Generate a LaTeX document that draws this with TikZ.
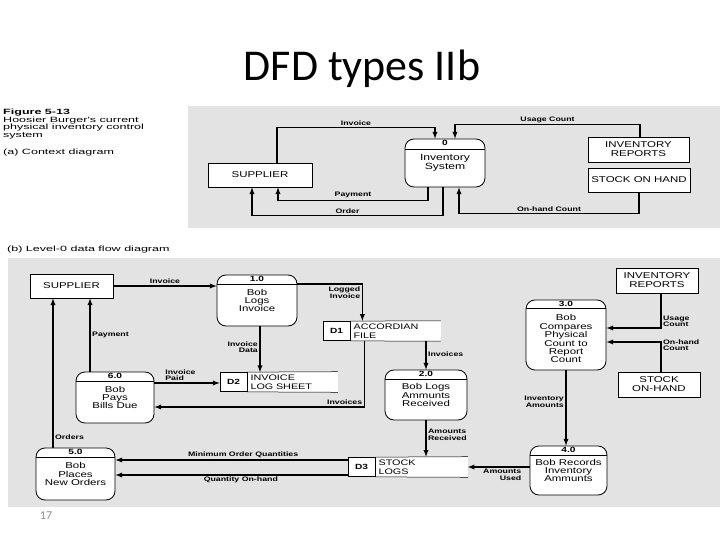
\documentclass[tikz,border=0pt]{standalone}
\usepackage{fontspec}
\setmainfont{Carlito}
\newfontfamily\dfdfont[FakeStretch=1.35]{Liberation Sans}
\newfontfamily\capfont[FakeStretch=1.65]{Liberation Sans}
\usetikzlibrary{positioning}
\begin{document}
\begin{tikzpicture}
	[x=1pt,y=-1pt,>=latex,
	entity/.style={draw,line width=0.7pt,fill=white,align=center,inner sep=1pt,font=\dfdfont\fontsize{8.5}{9}\selectfont},
	proc/.style={draw,line width=0.8pt,fill=white,rounded corners=9pt,align=center,inner sep=1pt,
		font=\dfdfont\fontsize{8.5}{8.4}\selectfont,
		path picture={\draw[line width=0.6pt] ([yshift=-#1]path picture bounding box.north west) -- ([yshift=-#1]path picture bounding box.north east);}},
	proc/.default=9pt,
	pid/.style={anchor=north,inner sep=1pt,font=\dfdfont\bfseries\fontsize{7.5}{8}\selectfont},
	storeid/.style={draw,line width=0.7pt,fill=white,minimum width=27pt,minimum height=19pt,inner sep=0pt,font=\dfdfont\bfseries\fontsize{7.5}{8}\selectfont},
	storename/.style={fill=white,align=left,minimum height=19pt,inner sep=3pt,font=\dfdfont\fontsize{8}{8.5}\selectfont},
	flow/.style={line width=1.3pt,->},
	lbl/.style={inner sep=1.5pt,font=\dfdfont\bfseries\fontsize{6.5}{6.5}\selectfont,align=left},
	scan/.style={fill=black!11,draw=none}]
    \useasboundingbox (0,0) rectangle (720,540);
    \fill[scan] (188,106) rectangle (720,228);
    \fill[scan] (8,258) rectangle (720,507);

    \node[font=\fontsize{44}{50}\selectfont] (title) at (362,69) {DFD types IIb};
    \node[font=\fontsize{12}{14}\selectfont,text=black!45] (pnum) at (46,516) {17};
    \node[anchor=north west,align=left,inner sep=0pt,font=\capfont\fontsize{7.6}{7.6}\selectfont] (cap) at (3,109)
        {\textbf{Figure 5-13}\\Hoosier Burger's current\\physical inventory control\\system\\[9pt](a) Context diagram};
    \node[anchor=west,inner sep=0pt,font=\capfont\fontsize{7.6}{7.6}\selectfont] (capb) at (7,250) {(b) Level-0 data flow diagram};

    \node[entity,minimum width=104pt,minimum height=24pt] (sup0) at (260,175) {SUPPLIER};
    \node[proc=10pt,minimum width=80pt,minimum height=48pt,font=\dfdfont\fontsize{9}{8.5}\selectfont,label={[pid]north:0}] (ctx) at (445,163) {Inventory\\System};
    \node[entity,minimum width=101pt,minimum height=25pt] (rep0) at (638.5,149.5) {INVENTORY\\REPORTS};
    \node[entity,minimum width=102pt,minimum height=24pt] (soh0) at (639,180) {STOCK ON HAND};

    \draw[flow] ([xshift=17pt]sup0.north) -- ++(0,-35) -| node[lbl,pos=.25,above] (l1) {Invoice} ([xshift=-10pt]ctx.north);
    \draw[flow] ([xshift=1.5pt]rep0.north) -- ++(0,-12) -| node[lbl,pos=.25,above] (l2) {Usage Count} ([xshift=10pt]ctx.north);
    \draw[flow] ([xshift=-17pt]ctx.south) -- ++(0,13) -| node[lbl,pos=.25,above] (l3) {Payment} ([xshift=18pt]sup0.south);
    \draw[flow] ([xshift=-2pt]ctx.south) -- ++(0,28) -| node[lbl,pos=.25,above] (l4) {Order} ([xshift=-8pt]sup0.south);
    \draw[flow] (soh0.south) -- ++(0,21) -| node[lbl,pos=.25,above] (l5) {On-hand Count} ([xshift=14pt]ctx.south);

    \node[entity,minimum width=83pt,minimum height=24pt] (sup1) at (71.5,286) {SUPPLIER};
    \node[entity,minimum width=82pt,minimum height=25pt] (rep1) at (657,280.5) {INVENTORY\\REPORTS};
    \node[entity,minimum width=82pt,minimum height=25pt] (soh1) at (659,384.5) {STOCK\\ON-HAND};
    \node[proc,minimum width=80pt,minimum height=51pt,label={[pid]north:1.0}] (p1) at (257,300.5) {Bob\\Logs\\Invoice};
    \node[proc,minimum width=82pt,minimum height=50pt,label={[pid]north:2.0}] (p2) at (426,395) {Bob Logs\\Ammunts\\Received};
    \node[proc=8pt,minimum width=80pt,minimum height=70pt,label={[pid]north:3.0}] (p3) at (566,335) {\rule{0pt}{14pt}Bob\\Compares\\Physical\\Count to\\Report\\Count};
    \node[proc,minimum width=77pt,minimum height=49pt,label={[pid]north:4.0}] (p4) at (568.5,470.5) {Bob Records\\Inventory\\Ammunts};
    \node[proc,minimum width=79pt,minimum height=52pt,label={[pid]north:5.0}] (p5) at (75.5,474) {Bob\\Places\\New Orders};
    \node[proc,minimum width=78pt,minimum height=51pt,label={[pid]north:6.0}] (p6) at (115,397.5) {Bob\\Pays\\Bills Due};

    \node[storeid] (d1) at (336.5,331) {D1};
    \node[storename,text width=84pt,right=0pt of d1] (d1n) {ACCORDIAN\\FILE};
    \node[storeid] (d2) at (233.5,382) {D2};
    \node[storename,text width=84pt,right=0pt of d2] (d2n) {INVOICE\\LOG SHEET};
    \node[storeid] (d3) at (361.5,467) {D3};
    \node[storename,text width=86pt,right=0pt of d3] (d3n) {STOCK\\LOGS};
    \draw[line width=0.5pt] (d1.north east) -- (d1n.north east) (d1.south east) -- (d1n.south east);
    \draw[line width=0.5pt] (d2.north east) -- (d2n.north east) (d2.south east) -- (d2n.south east);
    \draw[line width=0.5pt] (d3.north east) -- (d3n.north east) (d3.south east) -- (d3n.south east);

    \draw[flow] (sup1.east) -- node[lbl,above] (m1) {Invoice} (sup1.east -| p1.west);
    \draw[flow] ([yshift=16.5pt]p1.east) -| node[lbl,pos=.62,left,align=right] (m2) {Logged\\Invoice} ([xshift=12pt]d1n.north west);
    \draw[flow] ([xshift=3pt]p1.south) -- node[lbl,pos=.45,left,align=right] (m3) {Invoice\\Data} ([xshift=3pt]p1.south |- d2.north);
    \draw[flow] (d1n.south -| p2.north) -- node[lbl,pos=.45,right] (m4) {Invoices} (p2.north);
    \draw[flow] ([xshift=14pt]d1n.south west) |- node[lbl,pos=.5,anchor=south east] (m5) {Invoices} ([yshift=-9.5pt]p6.east);
    \draw[flow] ([yshift=14.5pt]p6.east) -- node[lbl,pos=.4,above] (m6) {Invoice\\Paid} ([yshift=14.5pt]p6.east -| d2.west);
    \draw[flow] ([xshift=-25pt]p6.north) -- node[lbl,pos=.5,right] (m7) {Payment} ([xshift=-25pt]p6.north |- sup1.south);
    \draw[flow] ([xshift=-22.5pt]p5.north) -- node[lbl,pos=.07,right] (m8) {Orders} ([xshift=-22.5pt]p5.north |- sup1.south);
    \draw[flow] ([yshift=7pt]d3.west) -- node[lbl,pos=.45,above] (m9) {Minimum Order Quantities} ([yshift=14pt]p5.east);
    \draw[flow] ([yshift=-8pt]d3.west) -- node[lbl,pos=.46,below] (m10) {Quantity On-hand} ([yshift=-1pt]p5.east);
    \draw[flow] (p2.south) -- node[lbl,pos=.4,right] (m11) {Amounts\\Received} (p2.south |- d3n.north);
    \draw[flow] ([yshift=3.5pt]p4.west) -- node[lbl,pos=.1,below left,align=right] (m12) {Amounts\\Used} (d3n.east);
    \draw[flow] ([xshift=4pt]rep1.south) |- node[lbl,pos=.4,right] (m13) {Usage\\Count} ([yshift=7pt]p3.east);
    \draw[flow] ([xshift=2pt]soh1.north) |- node[lbl,pos=.45,right] (m14) {On-hand\\Count} ([yshift=-7pt]p3.east);
    \draw[flow] (p3.south) -- node[lbl,pos=.42,left,align=right] (m15) {Inventory\\Amounts} (p3.south |- p4.north);

\end{tikzpicture}
\end{document}
